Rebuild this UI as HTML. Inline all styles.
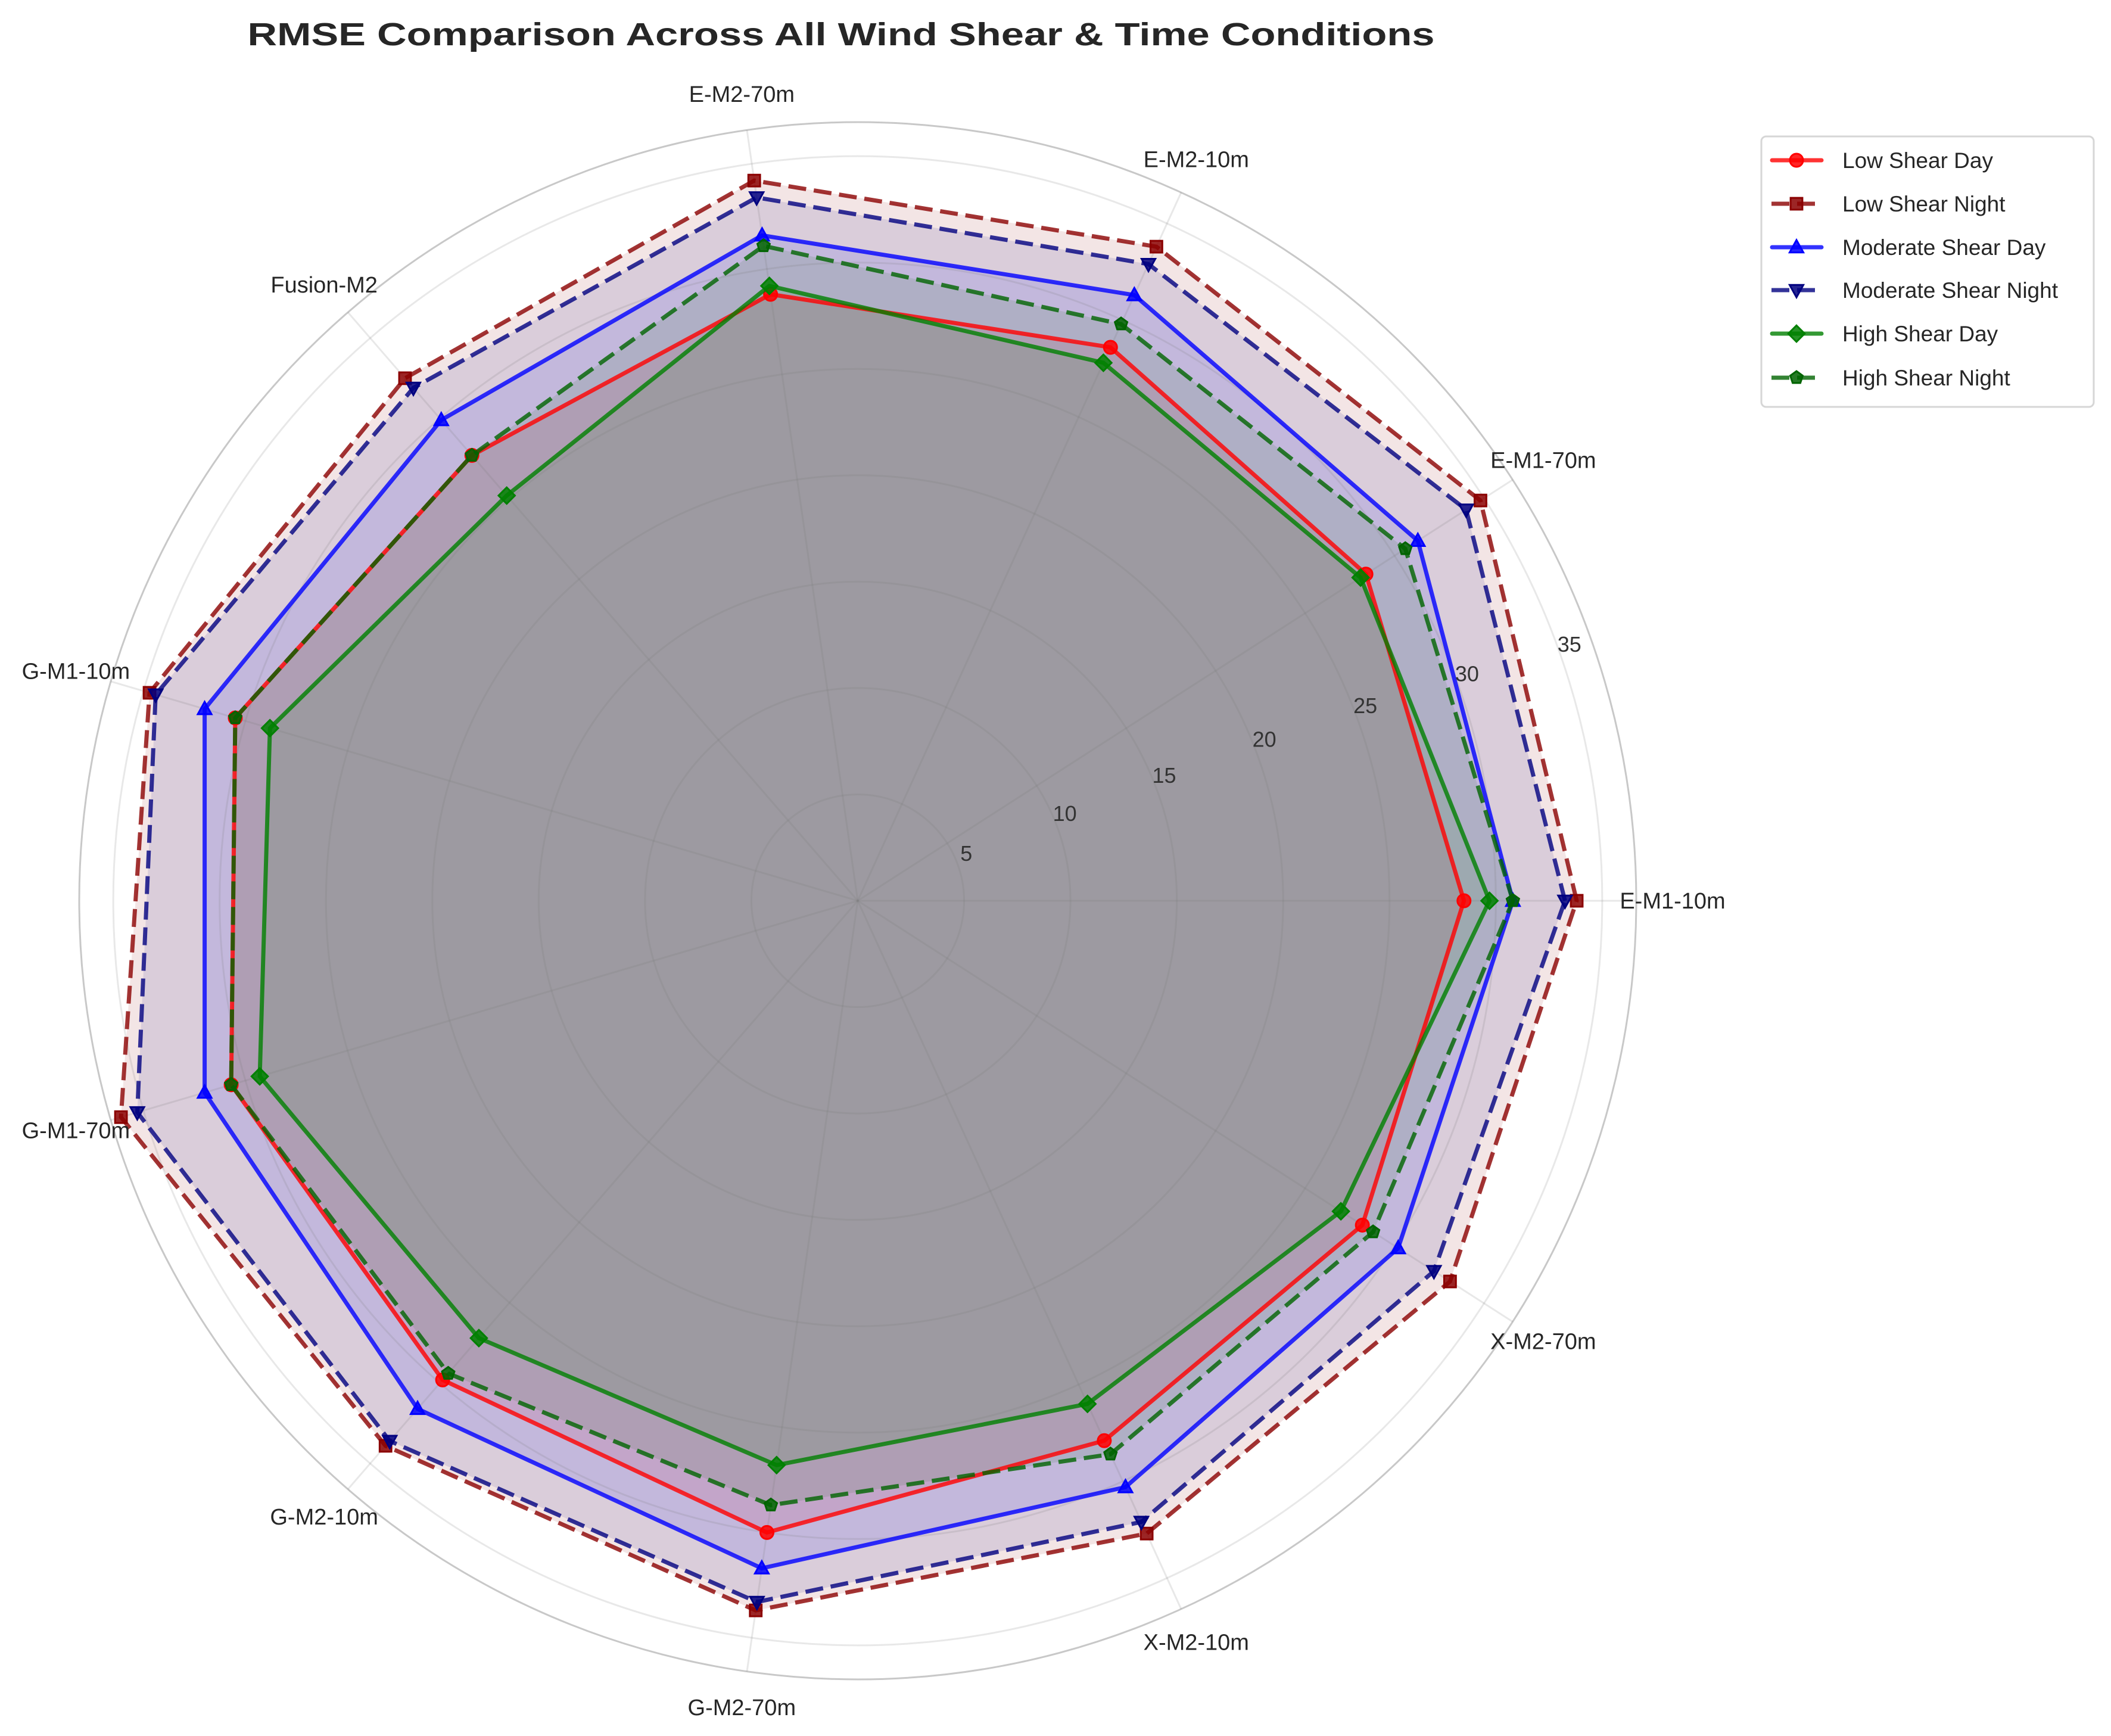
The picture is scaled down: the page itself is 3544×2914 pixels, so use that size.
<!DOCTYPE html>
<html><head><meta charset="utf-8">
<style>
html,body{margin:0;padding:0;background:#fff;}
svg{display:block;}
text{font-family:"Liberation Sans",Arial,sans-serif;}
</style></head>
<body>
<svg id="chart" width="3544" height="2914" viewBox="0 0 3544 2914" xmlns="http://www.w3.org/2000/svg">
<rect width="3544" height="2914" fill="#fff"/>
<text x="1412" y="76" text-anchor="middle" font-size="54" font-weight="bold" fill="#262626" textLength="1993" lengthAdjust="spacingAndGlyphs">RMSE Comparison Across All Wind Shear &amp; Time Conditions</text>
<g id="grid"></g>
<g id="fills"></g>
<g id="gridtop"></g>
<g id="series"></g>
<g id="labels"></g>
<g id="legend"></g>
</svg>
<script>
const categories = ["E-M1-10m","E-M1-70m","E-M2-10m","E-M2-70m","Fusion-M2","G-M1-10m","G-M1-70m","G-M2-10m","G-M2-70m","X-M2-10m","X-M2-70m"];
const seriesNames = ["Low Shear Day","Low Shear Night","Moderate Shear Day","Moderate Shear Night","High Shear Day","High Shear Night"];
const lowShearDay = [28.5,28.4,28.6,28.8,27.7,30.5,30.7,29.8,30.0,27.9,28.2];
const lowShearNight = [33.8,34.8,33.8,34.2,32.5,34.7,36.1,33.9,33.7,32.7,33.1];
const moderateShearDay = [30.8,31.3,31.3,31.6,29.9,32.0,32.0,31.6,31.7,30.3,30.2];
const moderateShearNight = [33.25,34.0,32.9,33.4,31.9,34.4,35.3,33.6,33.3,32.1,32.2];
const highShearDay = [29.7,28.1,27.8,29.2,25.2,28.8,29.3,27.2,26.8,26.0,27.0];
const highShearNight = [30.8,30.6,29.8,31.1,27.7,30.5,30.7,29.4,28.7,28.6,28.8];
const radialTicks = [5,10,15,20,25,30,35];
const rMaxValue = 36.6;

const NS="http://www.w3.org/2000/svg";
const cx=1440, cy=1512, R=1307;
const unit=R/rMaxValue;
const N=categories.length;
function ang(i){return i*2*Math.PI/N;}
function px(i,v){return cx+Math.cos(ang(i))*v*unit;}
function py(i,v){return cy-Math.sin(ang(i))*v*unit;}
function mk(tag,attrs,parent){const e=document.createElementNS(NS,tag);for(const k in attrs)e.setAttribute(k,attrs[k]);parent.appendChild(e);return e;}

const grid=document.getElementById('grid');
const gridtop=document.getElementById('gridtop');
radialTicks.forEach(t=>{
  const c=mk('circle',{cx:cx,cy:cy,r:t*unit,fill:'none',stroke:'rgba(120,120,120,0.17)','stroke-width':3},gridtop);
  
  
});
categories.forEach((c,i)=>{
  const l=mk('line',{x1:cx,y1:cy,x2:px(i,rMaxValue),y2:py(i,rMaxValue),stroke:'rgba(120,120,120,0.17)','stroke-width':3},gridtop);
  
  
});
const spine=mk('circle',{cx:cx,cy:cy,r:R,fill:'none',stroke:'#c8c8c8','stroke-width':3},grid);



const seriesData=[lowShearDay,lowShearNight,moderateShearDay,moderateShearNight,highShearDay,highShearNight];
const colors=['#ff0000','#8b0000','#0000ff','#000080','#008000','#006400'];
const dashed=[false,true,false,true,false,true];
const markers=['circle','square','tri-up','tri-down','diamond','pentagon'];
const fills=document.getElementById('fills');
const sg=document.getElementById('series');

function markerShape(type,x,y,s,color,parent){
  let e;
  const h=s/2;
  if(type==='circle') e=mk('circle',{cx:x,cy:y,r:h},parent);
  else if(type==='square') e=mk('rect',{x:x-h*0.9,y:y-h*0.9,width:h*1.8,height:h*1.8},parent);
  else if(type==='tri-up') e=mk('polygon',{points:`${x},${y-h*1.1} ${x-h*1.05},${y+h*0.8} ${x+h*1.05},${y+h*0.8}`},parent);
  else if(type==='tri-down') e=mk('polygon',{points:`${x},${y+h*1.1} ${x-h*1.05},${y-h*0.8} ${x+h*1.05},${y-h*0.8}`},parent);
  else if(type==='diamond') e=mk('polygon',{points:`${x},${y-h*1.25} ${x+h*1.25},${y} ${x},${y+h*1.25} ${x-h*1.25},${y}`},parent);
  else {let p=[];for(let k=0;k<5;k++){const a=-Math.PI/2+k*2*Math.PI/5;p.push((x+Math.cos(a)*h)+','+(y+Math.sin(a)*h));}e=mk('polygon',{points:p.join(' ')},parent);}
  e.setAttribute('fill',color);e.setAttribute('fill-opacity','0.85');
  e.setAttribute('stroke',color);e.setAttribute('stroke-width','3');
  return e;
}

seriesData.forEach((vals,s)=>{
  const pts=vals.map((v,i)=>px(i,v)+','+py(i,v)).join(' ');
  const f=mk('polygon',{points:pts,fill:colors[s],'fill-opacity':0.1,stroke:'none'},fills);
  
  
  const g=mk('g',{},sg);
  
  
  const attrs={points:pts,fill:'none',stroke:colors[s],'stroke-opacity':0.8,'stroke-width':7,'stroke-linejoin':'round'};
  if(dashed[s]) attrs['stroke-dasharray']='30 13';
  const ln=mk('polygon',attrs,g);
  
  
  vals.forEach((v,i)=>{
    const m=markerShape(markers[s],px(i,v),py(i,v),22,colors[s],g);
    
    
  });
});

const lab=document.getElementById('labels');
categories.forEach((c,i)=>{
  const r=1368;
  const t=mk('text',{x:cx+Math.cos(ang(i))*r,y:cy-Math.sin(ang(i))*r+13,'text-anchor':'middle','font-size':38,fill:'#262626'},lab);
  t.textContent=c;
  
  
});
radialTicks.forEach(t=>{
  const a=(24-0.12*t)*Math.PI/180, r=t*unit+20;
  const e=mk('text',{x:cx+Math.cos(a)*r,y:cy-Math.sin(a)*r+12,'text-anchor':'middle','font-size':36,fill:'#333'},lab);
  e.textContent=t;
  
  
});

const lg=document.getElementById('legend');
mk('rect',{x:2957,y:229,width:558,height:454,rx:8,fill:'#fff','fill-opacity':0.9,stroke:'#d6d6d6','stroke-width':3},lg);
const ly=[269,342,415,487,560,634];
seriesNames.forEach((n,s)=>{
  const g=mk('g',{},lg);
  
  
  const a={x1:2975,y1:ly[s],x2:3058,y2:ly[s],stroke:colors[s],'stroke-opacity':0.8,'stroke-width':7};
  if(dashed[s]){a['stroke-dasharray']='30 13';a.x1=2974;}
  else a['stroke-linecap']='round';
  mk('line',a,g);
  markerShape(markers[s],3016,ly[s],22,colors[s],g);
  const t=mk('text',{x:3093,y:ly[s]+13,'font-size':37,fill:'#262626'},g);
  t.textContent=n;
});
</script>
</body></html>
